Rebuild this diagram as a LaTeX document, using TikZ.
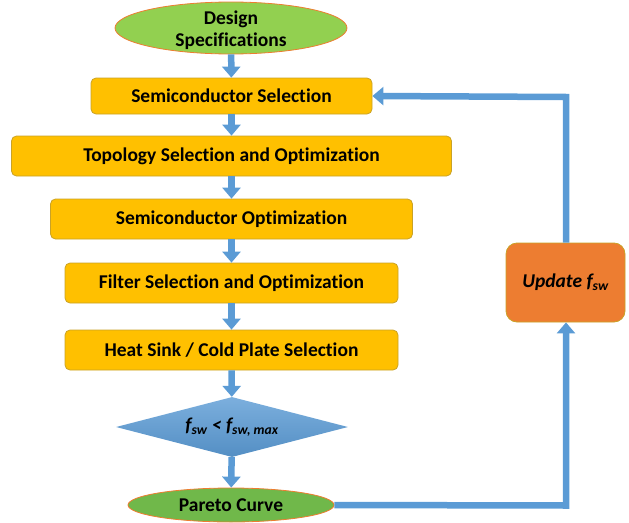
\documentclass[tikz,border=0pt]{standalone}
\usepackage{fontspec}
\setmainfont{Carlito}[Ligatures={NoCommon}]
\usetikzlibrary{shapes.geometric,arrows.meta}
\definecolor{flowblue}{HTML}{5B9BD5}
\definecolor{boxgold}{HTML}{FFC000}
\definecolor{boxedge}{HTML}{C9A227}
\definecolor{startgreen}{HTML}{92D050}
\definecolor{endgreen}{HTML}{70B84A}
\definecolor{ovaledge}{HTML}{ED7D31}
\definecolor{updorange}{HTML}{ED7D31}
\newcommand\labelfont{\bfseries\fontsize{19.5}{22}\selectfont}
\tikzset{
  stepbox/.style={draw=boxedge, line width=0.8pt, fill=boxgold, rounded corners=5pt,
    inner sep=0pt, font=\labelfont},
  oval/.style={ellipse, draw=ovaledge, line width=0.8pt, inner sep=0pt,
    font=\labelfont, align=center},
  decision/.style={diamond, draw=none, inner sep=0pt, aspect=3.87,
    top color=flowblue!80!white, bottom color=flowblue!92!black,
    font=\labelfont\itshape},
  updatebox/.style={draw=boxedge, line width=0.8pt, fill=updorange, rounded corners=11pt,
    inner sep=0pt, font=\labelfont\itshape},
  flow/.style={draw=flowblue, line width=6.5pt,
    -{Triangle[width=18pt,length=11pt]}},
}
\begin{document}
\begin{tikzpicture}[x=1pt,y=-1pt]
  \useasboundingbox (0,0) rectangle (629,522);
  % start and end ovals
  \node[oval, fill=startgreen, minimum width=232pt, minimum height=52pt] (spec) at (231,28) {};
  \node[font=\labelfont, align=center, inner sep=0pt] (spectext) at (231,30) {Design\\Specifications};
  % process steps
  \node[stepbox, minimum width=281pt, minimum height=36pt] (sel) at (231.5,96) {Semiconductor Selection};
  \node[stepbox, minimum width=440pt, minimum height=40pt] (topo) at (231.5,156) {Topology Selection and Optimization};
  \node[stepbox, minimum width=362pt, minimum height=40pt] (opt) at (231.5,219) {Semiconductor Optimization};
  \node[stepbox, minimum width=333pt, minimum height=40pt] (filt) at (231.5,283) {Filter Selection and Optimization};
  \node[stepbox, minimum width=333pt, minimum height=40pt] (heat) at (231.5,350) {Heat Sink / Cold Plate Selection};
  % switching-frequency check
  \node[decision, minimum width=232pt, minimum height=60pt] (check) at (232,427)
    {f\textsubscript{sw} < f\textsubscript{sw, max}};
  \node[oval, fill=endgreen, minimum width=206pt, minimum height=34pt] (pareto) at (231,505) {Pareto Curve};
  % frequency update
  \node[updatebox, minimum width=119pt, minimum height=79pt] (upd) at (565.5,282.5)
    {Update f\textsubscript{sw}};
  \coordinate (lowcorner) at (566,505.5);
  \coordinate (topcorner) at (566,97);
  % forward flow
  \draw[flow] (spec) -- (sel);
  \draw[flow] (sel) -- (topo);
  \draw[flow] (topo) -- (opt);
  \draw[flow] (opt) -- (filt);
  \draw[flow] (filt) -- (heat);
  \draw[flow] (heat) -- (check);
  \draw[flow] (check) -- (pareto);
  % feedback loop
  \draw[flow] (pareto.east) -- (lowcorner) -- (upd.south -| lowcorner);
  \draw[flow] (upd.north -| topcorner) -- (topcorner) -- (sel.east);
\end{tikzpicture}
\end{document}
